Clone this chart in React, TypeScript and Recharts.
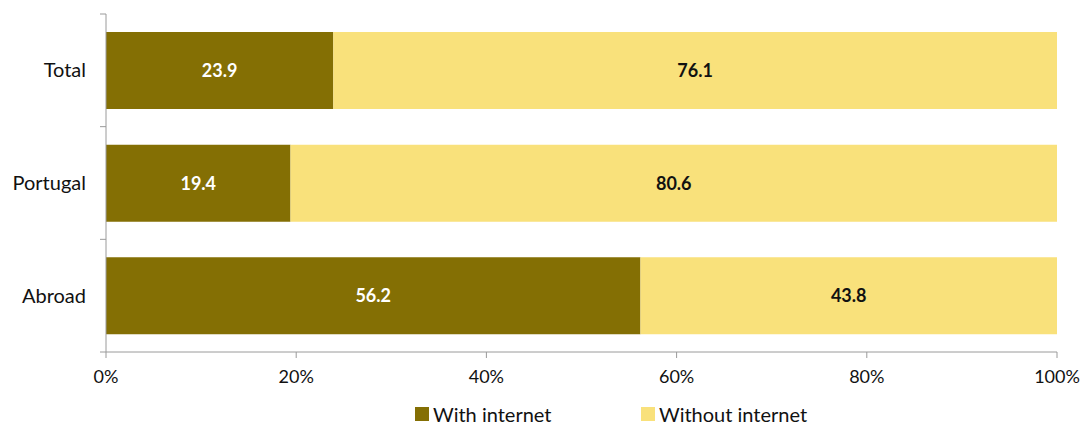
import { BarChart, Bar, XAxis, YAxis, Legend, LabelList } from 'recharts';

const categories = ['Total', 'Portugal', 'Abroad'];
const withInternet = [23.9, 19.4, 56.2];
const withoutInternet = [76.1, 80.6, 43.8];
const xTicks = [0, 20, 40, 60, 80, 100];

const DARK = '#846F04';
const LIGHT = '#F9E17B';
const AXIS = '#9a9a9a';
const FONT = 'Lato, "Noto Sans", sans-serif';

const W = 1085;
const H = 425;
const MARGIN = { top: 14, right: 28, left: 0, bottom: 0 };
const YAXIS_W = 106;
const XAXIS_H = 43;
const LEGEND_H = 30;
const BAND = (H - MARGIN.top - MARGIN.bottom - XAXIS_H - LEGEND_H) / categories.length;

const data = categories.map((name, i) => ({
  name,
  with: withInternet[i],
  without: withoutInternet[i],
}));

function CategoryTick(props: any) {
  const { y, payload, index } = props;
  return (
    <g>
      <line x1={YAXIS_W - 6} x2={YAXIS_W} y1={y - BAND / 2} y2={y - BAND / 2} stroke={AXIS} />
      {index === categories.length - 1 && (
        <line x1={YAXIS_W - 6} x2={YAXIS_W} y1={y + BAND / 2} y2={y + BAND / 2} stroke={AXIS} />
      )}
      <text x={YAXIS_W - 20} y={y} dy={7} textAnchor="end" fontSize={20} fill="#111" fontFamily={FONT}>
        {payload.value}
      </text>
    </g>
  );
}

function LegendContent() {
  const items = [
    { label: 'With internet', color: DARK, width: 226 },
    { label: 'Without internet', color: LIGHT, width: 200 },
  ];
  return (
    <div
      style={{
        height: LEGEND_H,
        boxSizing: 'border-box',
        display: 'flex',
        alignItems: 'flex-start',
        paddingLeft: 415,
        paddingTop: 7,
        fontFamily: FONT,
        fontSize: 20,
        color: '#111',
      }}
    >
      {items.map((it) => (
        <div key={it.label} style={{ display: 'flex', alignItems: 'center', width: it.width }}>
          <span style={{ width: 14, height: 14, background: it.color, marginRight: 4, display: 'inline-block' }} />
          <span>{it.label}</span>
        </div>
      ))}
    </div>
  );
}

export default function App() {
  return (
    <div style={{ position: 'absolute', left: 0, top: 0, background: '#fff' }}>
      <BarChart width={W} height={H} data={data} layout="vertical" margin={MARGIN} barSize={77}>
        <XAxis
          type="number"
          domain={[0, 100]}
          ticks={xTicks}
          tickFormatter={(v) => `${v}%`}
          height={XAXIS_H}
          stroke={AXIS}
          tickSize={6}
          tickMargin={12}
          tick={{ fill: '#111', fontSize: 18, fontFamily: FONT }}
          allowDataOverflow
        />
        <YAxis
          type="category"
          dataKey="name"
          width={YAXIS_W}
          stroke={AXIS}
          tickLine={false}
          tick={<CategoryTick />}
        />
        <Legend verticalAlign="bottom" content={<LegendContent />} />
        <Bar dataKey="with" stackId="a" fill={DARK} isAnimationActive={false}>
          <LabelList
            dataKey="with"
            position="center"
            formatter={(v: any) => Number(v).toFixed(1)}
            style={{ fill: '#fff', fontWeight: 700, fontSize: 18, fontFamily: FONT }}
          />
        </Bar>
        <Bar dataKey="without" stackId="a" fill={LIGHT} isAnimationActive={false}>
          <LabelList
            dataKey="without"
            position="center"
            formatter={(v: any) => Number(v).toFixed(1)}
            style={{ fill: '#111', fontWeight: 700, fontSize: 18, fontFamily: FONT }}
          />
        </Bar>
      </BarChart>
    </div>
  );
}
